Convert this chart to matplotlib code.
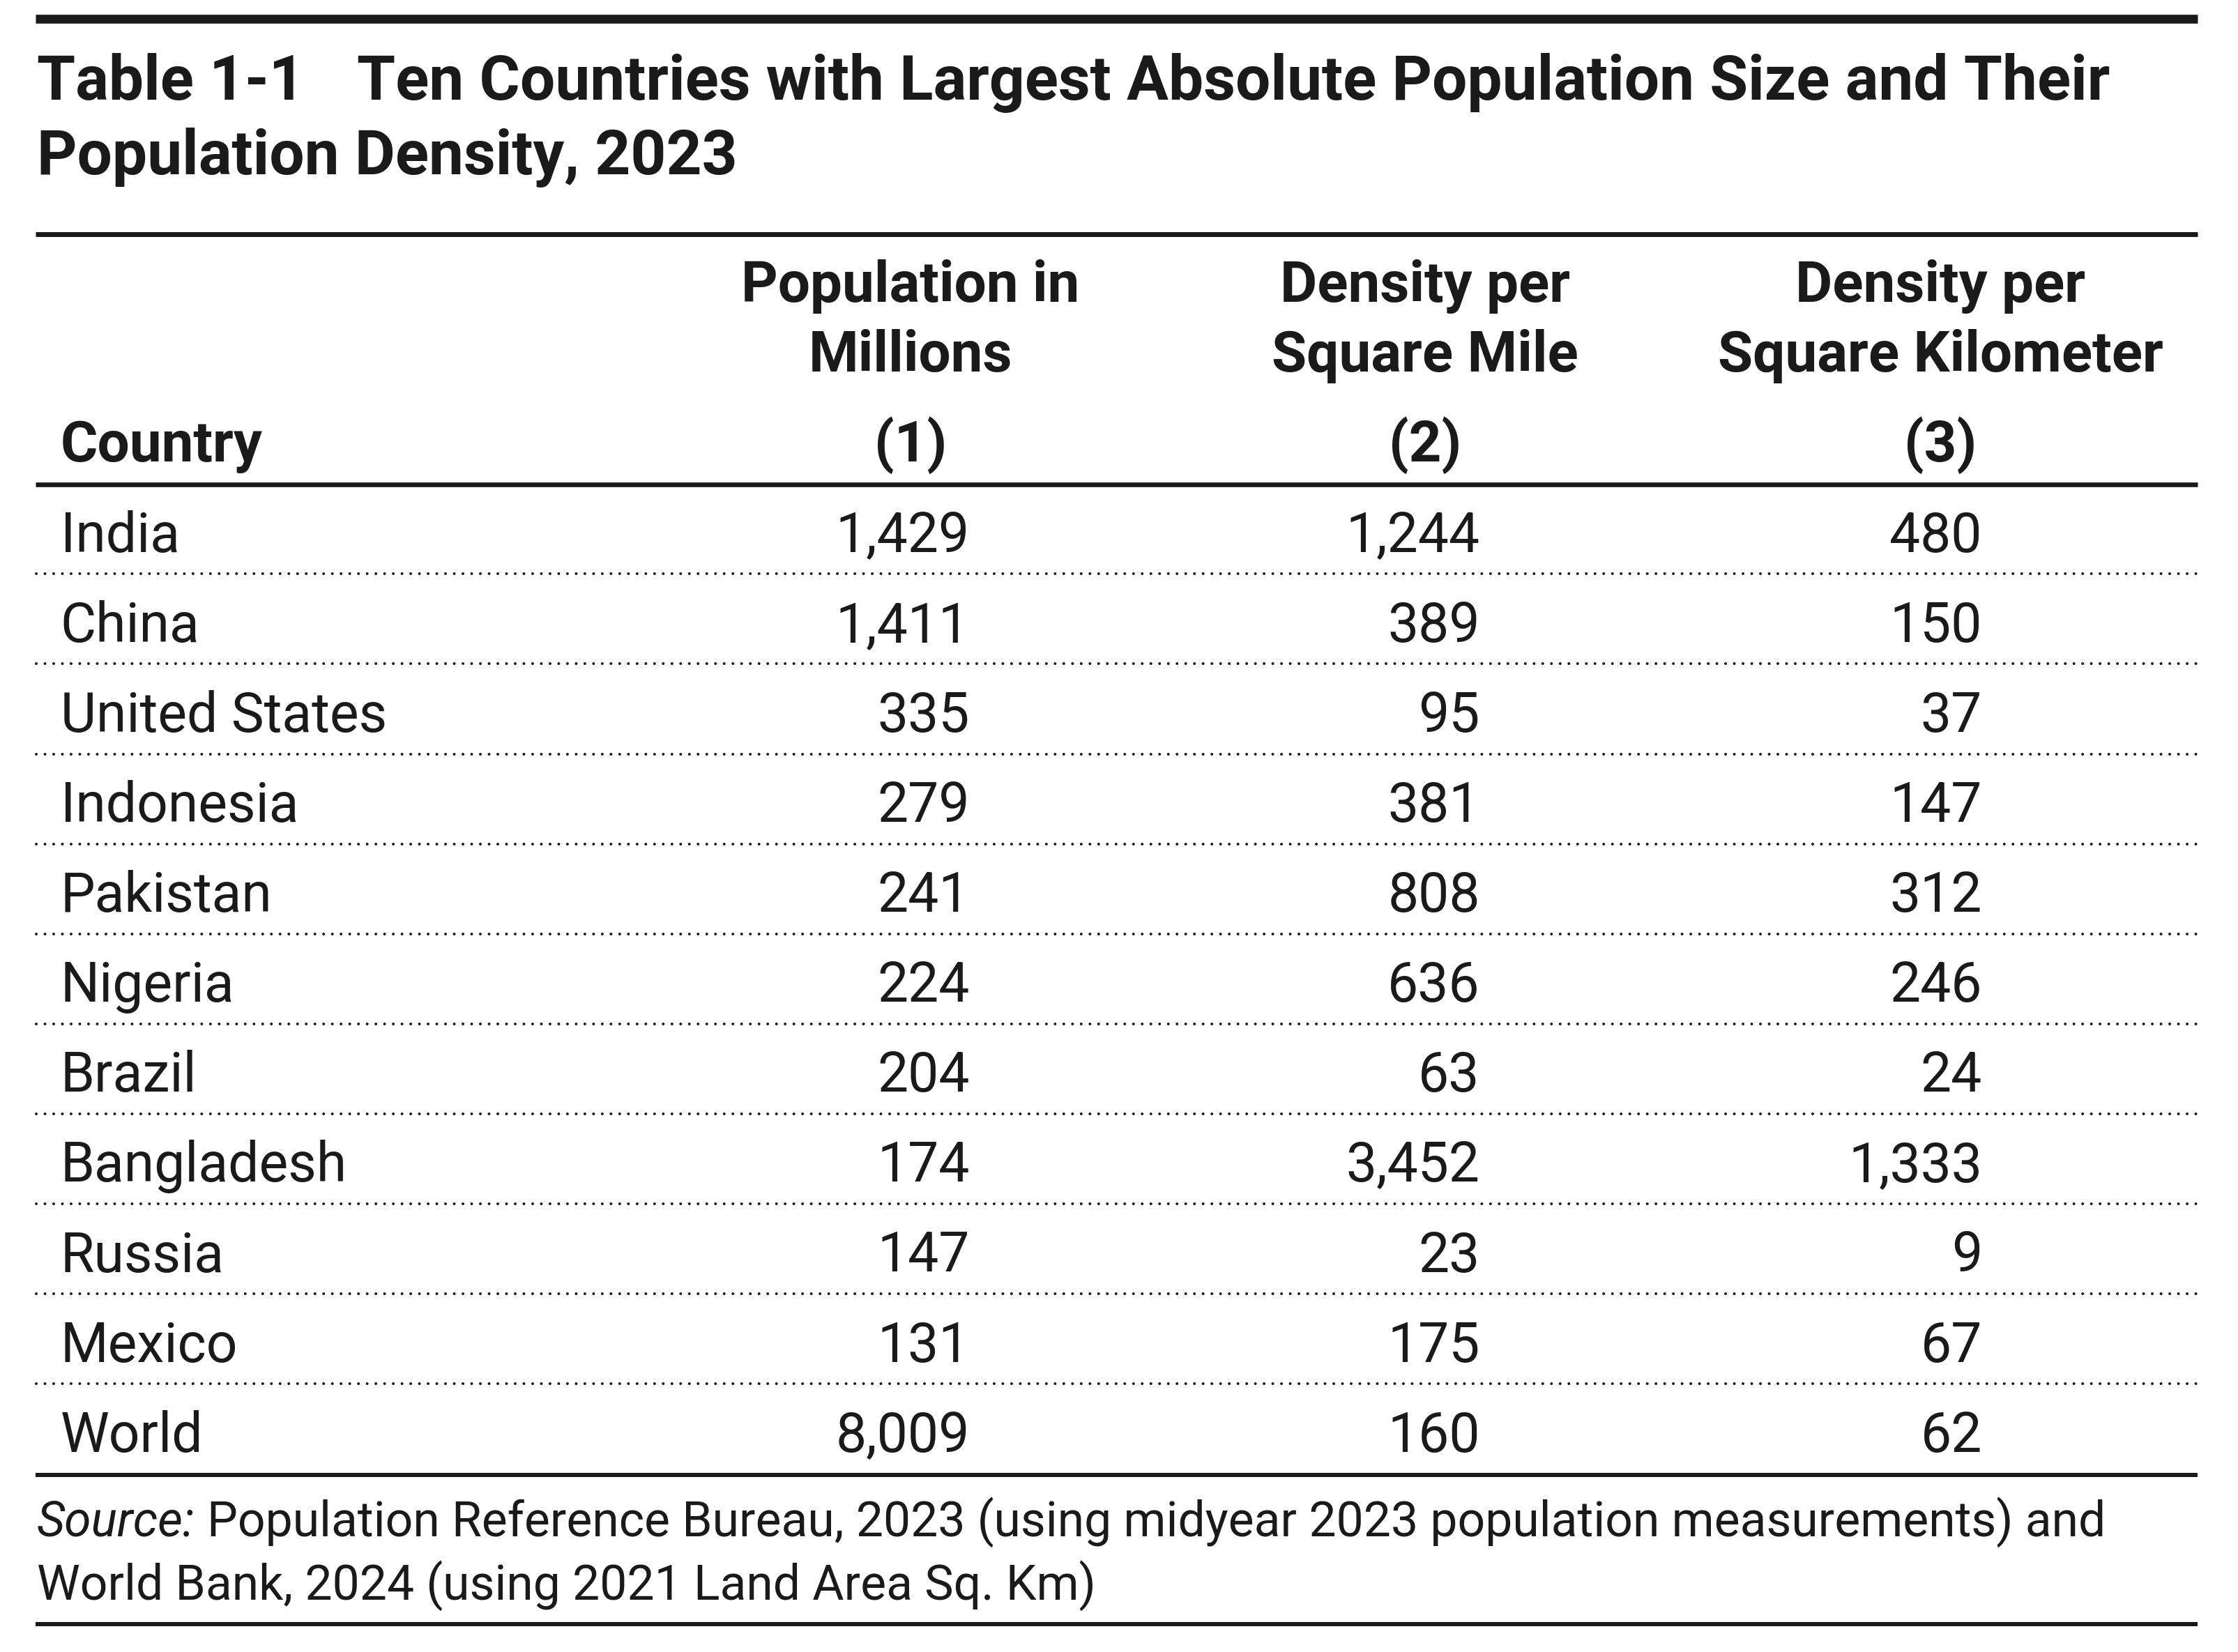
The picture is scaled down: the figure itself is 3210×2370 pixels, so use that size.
import math
import matplotlib
matplotlib.use("Agg")
import matplotlib.pyplot as plt
from matplotlib import font_manager as fm
from matplotlib.font_manager import FontProperties
from matplotlib.lines import Line2D

# ---------------- data ----------------
title_label = "Table 1-1"
title_line1 = "Ten Countries with Largest Absolute Population Size and Their"
title_line2 = "Population Density, 2023"
col_head_lines = [
    ["Population in", "Millions", "(1)"],
    ["Density per", "Square Mile", "(2)"],
    ["Density per", "Square Kilometer", "(3)"],
]
country_header = "Country"
countries = ["India", "China", "United States", "Indonesia", "Pakistan",
             "Nigeria", "Brazil", "Bangladesh", "Russia", "Mexico", "World"]
pop_millions = [1429, 1411, 335, 279, 241, 224, 204, 174, 147, 131, 8009]
density_sq_mile = [1244, 389, 95, 381, 808, 636, 63, 3452, 23, 175, 160]
density_sq_km = [480, 150, 37, 147, 312, 246, 24, 1333, 9, 67, 62]
source_italic = "Source:"
source_rest1 = "Population Reference Bureau, 2023 (using midyear 2023 population measurements) and"
source_line2 = "World Bank, 2024 (using 2021 Land Area Sq. Km)"

# ---------------- figure ----------------
W, H = 3210, 2370
DPI = 100
fig = plt.figure(figsize=(W / DPI, H / DPI), dpi=DPI)
fig.patch.set_facecolor("white")
renderer = fig.canvas.get_renderer()
INK = "#1a1a1a"


def measure(s, prop):
    w, h, d = renderer.get_text_width_height_descent(s, prop, ismath=False)
    return w, h, d


# ---- choose a humanist sans closest to Myriad proportions ----
names = {}
for f in fm.fontManager.ttflist:
    names.setdefault(f.name, set()).add(f.stretch)
pref = ["Open Sans", "Lato", "Noto Sans", "Roboto", "Inter", "Liberation Sans",
        "Liberation Sans Narrow"]
cands = []
for n in names:
    base_ok = any(n == p or (n.startswith(p) and ("Cond" in n or "Narrow" in n or "Semi" in n))
                  for p in pref)
    if base_ok:
        for st in names[n]:
            cands.append((n, st))

target_reg = 460.0 / 57.3      # 'United States' width / cap height
target_bold = 1013.0 / 63.0     # 'Population Density, 2023' width / cap height
best = None
for n, st in cands:
    try:
        pr = FontProperties(family=n, stretch=st, size=100)
        pb = FontProperties(family=n, stretch=st, weight="bold", size=100)
        wr = measure("United States", pr)[0] / measure("H", pr)[1]
        wb = measure(title_line2, pb)[0] / measure("H", pb)[1]
        err = abs(wr - target_reg) / target_reg + abs(wb - target_bold) / target_bold
    except Exception:
        continue
    if best is None or err < best[0]:
        best = (err, n, st)
FAM, STR = (best[1], best[2]) if best else ("DejaVu Sans", "normal")


def fitted_size(sample, cap_px, width_px, weight="normal", style="normal"):
    p = FontProperties(family=FAM, stretch=STR, weight=weight, style=style, size=100)
    cap = measure("H", p)[1]
    w = measure(sample, p)[0]
    s_cap = 100 * cap_px / cap
    s_w = 100 * width_px / w
    return math.sqrt(s_cap * s_w)


sz_body = fitted_size("United States", 57.3, 460)
sz_title = fitted_size(title_line2, 63.0, 1013, weight="bold")
sz_head = fitted_size("Square Kilometer", 58.0, 642, weight="bold")
sz_src = fitted_size(source_line2, 51.7, 1494) * 0.99

P_body = FontProperties(family=FAM, stretch=STR, size=sz_body)
P_title = FontProperties(family=FAM, stretch=STR, weight="bold", size=sz_title)
P_head = FontProperties(family=FAM, stretch=STR, weight="bold", size=sz_head)
P_src = FontProperties(family=FAM, stretch=STR, size=sz_src)
P_src_it = FontProperties(family=FAM, stretch=STR, style="italic", size=sz_src)


def txt(x, y, s, prop, ha="left"):
    return fig.text(x / W, 1 - y / H, s, fontproperties=prop, ha=ha,
                    va="baseline", color=INK)


def hline(y, lw_px, x0=51, x1=3152, dotted=False):
    lw = lw_px * 72.0 / DPI
    if dotted:
        ln = Line2D([x0 / W, x1 / W], [1 - y / H] * 2, transform=fig.transFigure,
                    color=INK, lw=lw, linestyle=(0, (0.01, 12.45 / lw_px)),
                    dash_capstyle="round")
    else:
        ln = Line2D([x0 / W, x1 / W], [1 - y / H] * 2, transform=fig.transFigure,
                    color=INK, lw=lw, solid_capstyle="butt")
    fig.add_artist(ln)


# ---------------- rules ----------------
hline(27, 12.7)
hline(336.5, 7.0)
hline(695, 6.7)
hline(2115.7, 6.0)
hline(2330, 6.0)

# ---------------- title ----------------
txt(52.7, 142.7, title_label, P_title)
txt(512, 142.7, title_line1, P_title)
txt(52.7, 250, title_line2, P_title)

# ---------------- header ----------------
head_centers = [1306, 2044, 2783]
head_baselines = [432.7, 532.7, 661.7]
for cx, lines in zip(head_centers, col_head_lines):
    for yb, s in zip(head_baselines, lines):
        txt(cx, yb, s, P_head, ha="center")
txt(86.7, 661.7, country_header, P_head)

# ---------------- body ----------------
row0, row_step = 791.7, 129.1
col_right = [1390.7, 2122.7, 2843]
for i, c in enumerate(countries):
    yb = row0 + i * row_step
    txt(86.7, yb, c, P_body)
    for xr, vals in zip(col_right, (pop_millions, density_sq_mile, density_sq_km)):
        txt(xr, yb, f"{vals[i]:,}", P_body, ha="right")
    if i < len(countries) - 1:
        hline(yb + 31.6, 4.0, x0=51.7, dotted=True)

# ---------------- source ----------------
t_it = txt(52.7, 2203.3, source_italic, P_src_it)
w_it = measure(source_italic, P_src_it)[0]
w_sp = measure("a a", P_src)[0] - measure("aa", P_src)[0]
txt(52.7 + w_it + w_sp, 2203.3, source_rest1, P_src)
txt(52.7, 2295, source_line2, P_src)

fig.savefig("out.png", dpi=DPI, facecolor="white")
